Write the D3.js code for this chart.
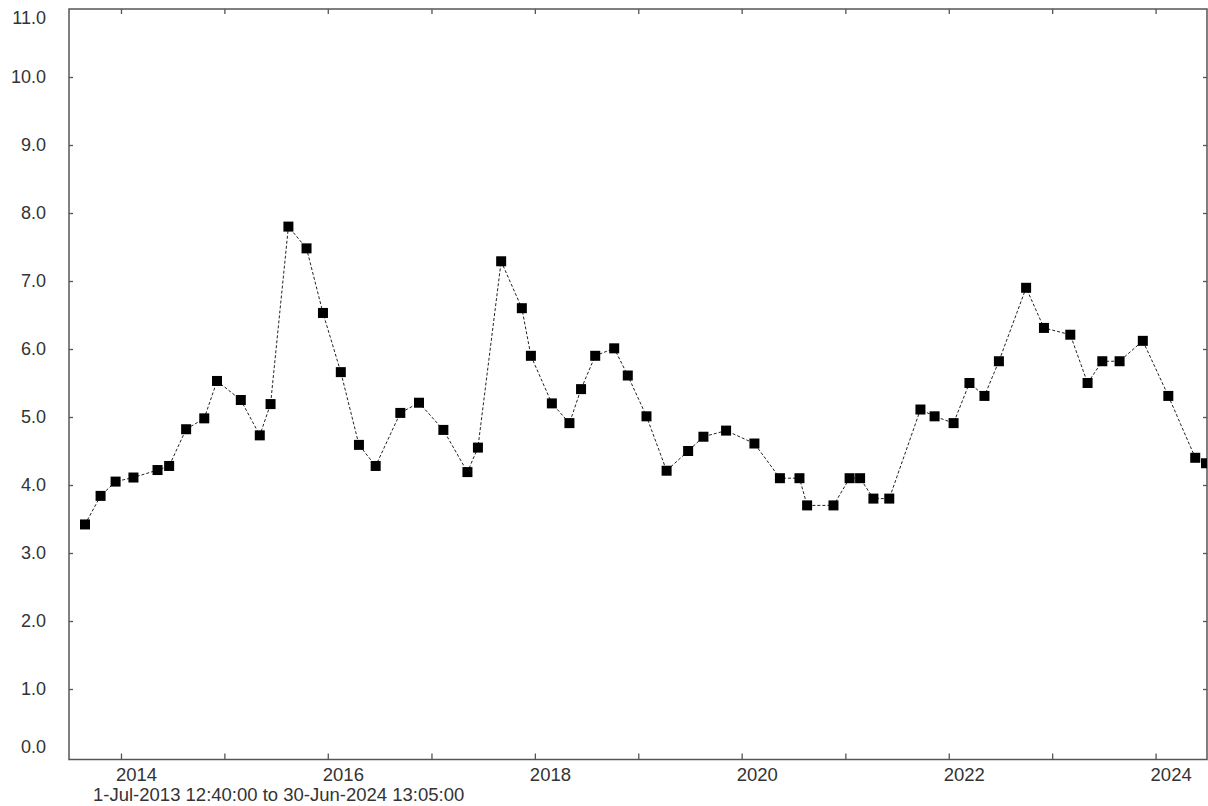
<!DOCTYPE html>
<html>
<head>
<meta charset="utf-8">
<script src="https://cdn.jsdelivr.net/npm/d3@7"></script>
<style>
  html, body { margin: 0; padding: 0; background: #fff; }
  svg { display: block; }
  text { font-family: "Liberation Sans", Arial, sans-serif; fill: #333; }
</style>
</head>
<body>
<svg id="chart" width="1208" height="806"></svg>
<script>
// Sample dates (UTC) and measured values
const sampleDates = [
  "2013-08-27","2013-10-21","2013-12-13","2014-02-14","2014-05-10","2014-06-20",
  "2014-08-19","2014-10-22","2014-12-06","2015-02-28","2015-05-06","2015-06-13",
  "2015-08-15","2015-10-18","2015-12-15","2016-02-16","2016-04-20","2016-06-18",
  "2016-09-13","2016-11-18","2017-02-12","2017-05-08","2017-06-14","2017-09-04",
  "2017-11-16","2017-12-18","2018-03-02","2018-05-03","2018-06-13","2018-08-02",
  "2018-10-08","2018-11-25","2019-01-30","2019-04-11","2019-06-26","2019-08-19",
  "2019-11-07","2020-02-15","2020-05-15","2020-07-23","2020-08-19","2020-11-20",
  "2021-01-16","2021-02-22","2021-04-10","2021-06-05","2021-09-23","2021-11-12",
  "2022-01-18","2022-03-15","2022-05-07","2022-06-27","2022-10-01","2022-12-03",
  "2023-03-06","2023-05-06","2023-06-27","2023-08-27","2023-11-17","2024-02-15",
  "2024-05-20","2024-06-27"
];
const values = [
  3.42, 3.84, 4.05, 4.11, 4.22, 4.28,
  4.82, 4.98, 5.53, 5.25, 4.73, 5.19,
  7.80, 7.48, 6.53, 5.66, 4.59, 4.28,
  5.06, 5.21, 4.81, 4.19, 4.55, 7.29,
  6.60, 5.90, 5.20, 4.91, 5.41, 5.90,
  6.01, 5.61, 5.01, 4.21, 4.50, 4.71,
  4.80, 4.61, 4.10, 4.10, 3.70, 3.70,
  4.10, 4.10, 3.80, 3.80, 5.11, 5.01,
  4.91, 5.50, 5.31, 5.82, 6.90, 6.31,
  6.21, 5.50, 5.82, 5.82, 6.12, 5.31,
  4.40, 4.32
];
const yTicks = [0, 1, 2, 3, 4, 5, 6, 7, 8, 9, 10, 11];
const xLabelYears = [2014, 2016, 2018, 2020, 2022, 2024];
const rangeStart = "2013-07-01T12:40:00Z";
const rangeEnd = "2024-06-30T13:05:00Z";
const rangeCaption = "1-Jul-2013 12:40:00 to 30-Jun-2024 13:05:00";

const svg = d3.select("#chart");
const L = 69, R = 1207, T = 9, B = 759.5;

const parseDay = d3.utcParse("%Y-%m-%d");
const points = sampleDates.map((d, i) => ({ date: parseDay(d), value: values[i] }));

const x = d3.scaleUtc()
  .domain([new Date(rangeStart), new Date(rangeEnd)])
  .range([L, R]);
const y = d3.scaleLinear().domain([0, 11]).range([757, T]);

const axisColor = "#555";

// Clip region for the plot area
svg.append("clipPath").attr("id", "plotClip")
  .append("rect").attr("x", L).attr("y", T).attr("width", R - L).attr("height", B - T);

// Year ticks on bottom and top edges (pointing inward)
const years = x.ticks(d3.utcYear.every(1));
const bottomAxis = d3.axisBottom(x).tickValues(years).tickSize(-6).tickFormat("");
const topAxis = d3.axisTop(x).tickValues(years).tickSize(-5).tickFormat("");
svg.append("g").attr("transform", `translate(0,${B})`).call(bottomAxis)
  .call(g => g.select(".domain").remove())
  .selectAll("line").attr("stroke", axisColor).attr("stroke-width", 1.3);
svg.append("g").attr("transform", `translate(0,${T})`).call(topAxis)
  .call(g => g.select(".domain").remove())
  .selectAll("line").attr("stroke", axisColor).attr("stroke-width", 1.3);

// Value ticks on left and right edges (pointing inward)
const leftAxis = d3.axisLeft(y).tickValues(yTicks.slice(1, -1)).tickSize(-4).tickFormat("");
const rightAxis = d3.axisRight(y).tickValues(yTicks.slice(1, -1)).tickSize(-4).tickFormat("");
svg.append("g").attr("transform", `translate(${L},0)`).call(leftAxis)
  .call(g => g.select(".domain").remove())
  .selectAll("line").attr("stroke", axisColor).attr("stroke-width", 1.3);
svg.append("g").attr("transform", `translate(${R},0)`).call(rightAxis)
  .call(g => g.select(".domain").remove())
  .selectAll("line").attr("stroke", axisColor).attr("stroke-width", 1.3);

// Plot frame
svg.append("rect")
  .attr("x", L).attr("y", T).attr("width", R - L).attr("height", B - T)
  .attr("fill", "none").attr("stroke", axisColor).attr("stroke-width", 1.5);

// Value labels, kept inside the frame at the ends
const fmt = d3.format(".1f");
svg.append("g").selectAll("text").data(yTicks).join("text")
  .attr("x", 46)
  .attr("y", d => Math.max(T + 9, Math.min(y(d), 747)))
  .attr("dy", "0.35em")
  .attr("text-anchor", "end")
  .attr("font-size", 18)
  .text(d => fmt(d));

// Year labels, starting just left of their tick
svg.append("g").selectAll("text").data(xLabelYears).join("text")
  .attr("x", d => x(Date.UTC(d, 0, 1)) - 5)
  .attr("y", 781)
  .attr("text-anchor", "start")
  .attr("font-size", 18.5)
  .text(d => d);

// Time range caption
svg.append("text")
  .attr("x", 93).attr("y", 801)
  .attr("font-size", 18.5)
  .text(rangeCaption);

// Series: dashed line with square markers
const plot = svg.append("g").attr("clip-path", "url(#plotClip)");
const line = d3.line().x(d => x(d.date)).y(d => y(d.value));
plot.append("path")
  .datum(points)
  .attr("d", line)
  .attr("fill", "none")
  .attr("stroke", "#222")
  .attr("stroke-width", 1)
  .attr("stroke-dasharray", "3,2");

const size = 10;
plot.selectAll("rect.marker").data(points).join("rect")
  .attr("class", "marker")
  .attr("x", d => x(d.date) - size / 2)
  .attr("y", d => y(d.value) - size / 2)
  .attr("width", size).attr("height", size)
  .attr("fill", "#000");
</script>
</body>
</html>
